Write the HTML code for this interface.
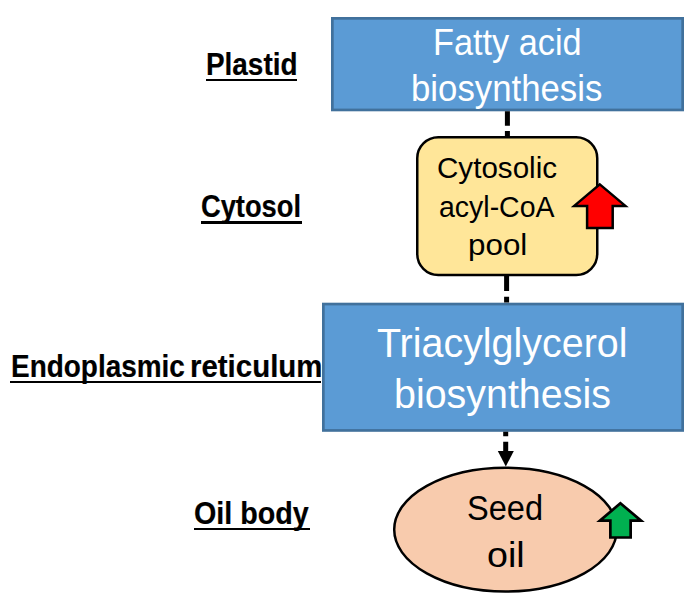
<!DOCTYPE html>
<html><head><meta charset="utf-8"><style>
html,body{margin:0;padding:0;background:#fff;width:693px;height:600px;overflow:hidden;position:relative}
.t{position:absolute;white-space:nowrap;font-family:"Liberation Sans",sans-serif;transform-origin:0 0}
.u{position:absolute;background:#000}
</style></head><body>
<svg width="693" height="600" viewBox="0 0 693 600" style="position:absolute;left:0;top:0">
<rect x="332.35" y="18.35" width="350.3" height="91.6" fill="#5B9BD5" stroke="#41719C" stroke-width="2.7"/>
<rect x="323.35" y="304.05" width="359.3" height="126.4" fill="#5B9BD5" stroke="#41719C" stroke-width="2.7"/>
<line x1="507.4" y1="111.3" x2="507.4" y2="137" stroke="#000" stroke-width="5" stroke-dasharray="14.4 5.4"/>
<line x1="506.6" y1="275.8" x2="506.6" y2="302.6" stroke="#000" stroke-width="5" stroke-dasharray="15.2 5.8"/>
<line x1="505.7" y1="431.8" x2="505.7" y2="453" stroke="#000" stroke-width="5" stroke-dasharray="4.5 5.5 20"/>
<polygon points="497.8,451 513.8,451 505.8,466.5" fill="#000"/>
<rect x="417.25" y="137.25" width="180" height="137.7" rx="21" ry="21" fill="#FFE699" stroke="#000" stroke-width="2.5"/>
<polygon points="599.8,184.4 625.4,205.9 612.7,205.9 612.7,228.1 587.1,228.1 587.1,205.9 574.2,205.9" fill="#FF0000" stroke="#000" stroke-width="2.5"/>
<ellipse cx="505.5" cy="529.6" rx="111.3" ry="61.9" fill="#F8CBAD" stroke="#000" stroke-width="2.5"/>
<polygon points="620.4,503.3 641.1,520.6 630.65,520.6 630.65,537.5 610.35,537.5 610.35,520.6 599.9,520.6" fill="#00B050" stroke="#000" stroke-width="2.7"/>
</svg>
<div class="t" style="left:205.95px;top:49.62px;font-weight:700;color:#000;font-size:30.8px;line-height:30.8px;transform:scaleX(0.9058);-webkit-text-stroke:0.2px #000">Plastid</div>
<div class="t" style="left:201.41px;top:191.52px;font-weight:700;color:#000;font-size:30.8px;line-height:30.8px;transform:scaleX(0.8856);-webkit-text-stroke:0.2px #000">Cytosol</div>
<div class="t" style="left:10.54px;top:351.62px;font-weight:700;color:#000;font-size:30.8px;line-height:30.8px;transform:scaleX(0.9072);-webkit-text-stroke:0.2px #000">Endoplasmic</div>
<div class="t" style="left:189.94px;top:351.62px;font-weight:700;color:#000;font-size:30.8px;line-height:30.8px;transform:scaleX(0.9555);-webkit-text-stroke:0.2px #000">reticulum</div>
<div class="t" style="left:194.45px;top:498.92px;font-weight:700;color:#000;font-size:30.8px;line-height:30.8px;transform:scaleX(0.9313);-webkit-text-stroke:0.2px #000">Oil body</div>
<div class="t" style="left:433.16px;top:25.40px;font-weight:400;color:#fff;font-size:36px;line-height:36px;transform:scaleX(0.9520)">Fatty acid</div>
<div class="t" style="left:411.47px;top:71.40px;font-weight:400;color:#fff;font-size:36px;line-height:36px;transform:scaleX(0.9655)">biosynthesis</div>
<div class="t" style="left:437.12px;top:152.85px;font-weight:400;color:#000;font-size:30.3px;line-height:30.3px;transform:scaleX(0.9768)">Cytosolic</div>
<div class="t" style="left:439.46px;top:192.05px;font-weight:400;color:#000;font-size:30.3px;line-height:30.3px;transform:scaleX(0.9399)">acyl-CoA</div>
<div class="t" style="left:467.70px;top:230.25px;font-weight:400;color:#000;font-size:30.3px;line-height:30.3px;transform:scaleX(1.0354)">pool</div>
<div class="t" style="left:377.11px;top:323.18px;font-weight:400;color:#fff;font-size:40.5px;line-height:40.5px;transform:scaleX(0.9735)">Triacylglycerol</div>
<div class="t" style="left:394.04px;top:373.68px;font-weight:400;color:#fff;font-size:40.5px;line-height:40.5px;transform:scaleX(0.9730)">biosynthesis</div>
<div class="t" style="left:467.17px;top:490.72px;font-weight:400;color:#000;font-size:35.5px;line-height:35.5px;transform:scaleX(0.9174)">Seed</div>
<div class="t" style="left:486.59px;top:538.03px;font-weight:400;color:#000;font-size:35.5px;line-height:35.5px;transform:scaleX(1.0603)">oil</div>
<div class="u" style="left:206px;top:78.9px;width:90.9px;height:2.6px"></div>
<div class="u" style="left:201.3px;top:221px;width:100.6px;height:2.6px"></div>
<div class="u" style="left:10.4px;top:380.7px;width:310.5px;height:2.5px"></div>
<div class="u" style="left:193.8px;top:527.6px;width:116.1px;height:2.5px"></div>
</body></html>
